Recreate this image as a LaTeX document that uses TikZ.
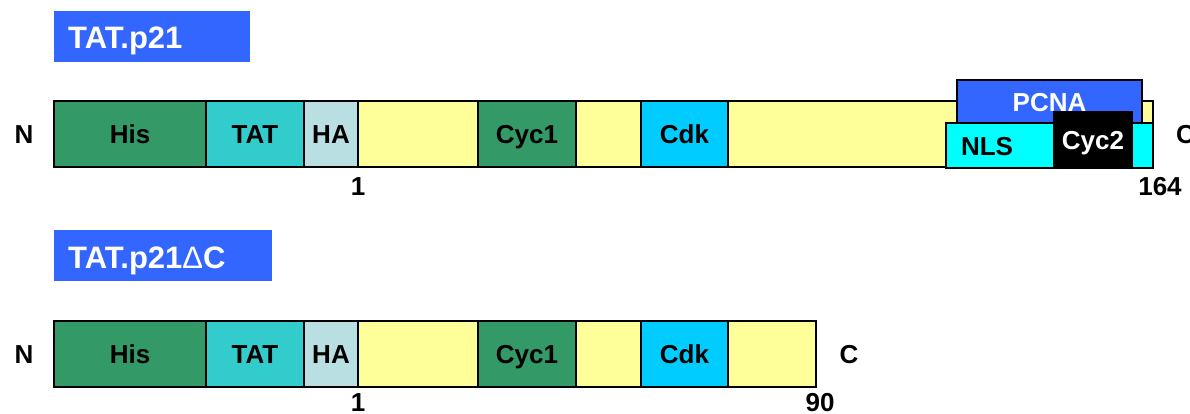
\documentclass[tikz,border=0pt]{standalone}
\usepackage{fontspec}
\setmainfont{Liberation Sans}
\definecolor{hisgreen}{HTML}{339966}
\definecolor{tatcyan}{HTML}{33CCCC}
\definecolor{hablue}{HTML}{B9DFE3}
\definecolor{pyellow}{HTML}{FFFF99}
\definecolor{cdkblue}{HTML}{00CCFF}
\definecolor{pcnablue}{HTML}{3366FF}
\definecolor{nlscyan}{HTML}{00FFFF}
\begin{document}
\begin{tikzpicture}[x=1pt,y=-1pt,
  seg/.style={draw=black, line width=1.6pt, inner sep=0pt, outer sep=0pt, anchor=north west,
    minimum height=66pt, text height=19pt, text depth=0pt, font=\fontsize{26}{30}\selectfont\bfseries},
  title/.style={fill=pcnablue, inner sep=0pt, outer sep=0pt, anchor=north west, minimum height=51pt},
  titletext/.style={anchor=west, inner sep=0pt, text=white, text height=22pt, text depth=0pt,
    font=\fontsize{31}{34}\selectfont\bfseries},
  lbl/.style={inner sep=0pt, text height=19pt, text depth=0pt, font=\fontsize{26}{30}\selectfont\bfseries}]
\useasboundingbox (0,0) rectangle (1190,414);
% titles
\node[title, minimum width=196pt] (t1box) at (54,11) {};
\node[titletext] (t1) at (68,38) {TAT.p21};
\node[title, minimum width=218pt] (t2box) at (54,230) {};
\node[titletext] (t2) at (68,257) {TAT.p21{\mdseries Δ}C};
% top bar
\node[seg, fill=pyellow, minimum width=1099pt] (bar1) at (54,101) {};
\node[seg, fill=hisgreen, minimum width=152pt] (his1) at (54,101) {His};
\node[seg, fill=tatcyan, minimum width=98pt] (tat1) at (206,101) {TAT};
\node[seg, fill=hablue, minimum width=54pt] (ha1) at (304,101) {HA};
\node[seg, fill=hisgreen, minimum width=98pt] (cyca) at (478,101) {Cyc1};
\node[seg, fill=cdkblue, minimum width=87pt] (cdka) at (641,101) {Cdk};
\node[seg, fill=pcnablue, minimum width=185pt, minimum height=44pt, text=white] (pcna) at (957,80) {PCNA};
\node[seg, fill=nlscyan, minimum width=207pt, minimum height=45pt] (nls) at (946,123) {};
\node[lbl] (nlstext) at (987,146) {NLS};
\node[seg, fill=black, minimum width=78pt, minimum height=56pt, text=white] (cyc2) at (1054,112) {Cyc2};
\node[lbl] (n1) at (24,134) {N};
\node[lbl, anchor=west] (c1) at (1176,134) {C};
\node[lbl] (one1) at (358,186) {1};
\node[lbl] (end1) at (1160,186) {164};
% bottom bar
\node[seg, fill=pyellow, minimum width=762pt] (bar2) at (54,321) {};
\node[seg, fill=hisgreen, minimum width=152pt] (his2) at (54,321) {His};
\node[seg, fill=tatcyan, minimum width=98pt] (tat2) at (206,321) {TAT};
\node[seg, fill=hablue, minimum width=54pt] (ha2) at (304,321) {HA};
\node[seg, fill=hisgreen, minimum width=98pt] (cycb) at (478,321) {Cyc1};
\node[seg, fill=cdkblue, minimum width=87pt] (cdkb) at (641,321) {Cdk};
\node[lbl] (n2) at (24,354) {N};
\node[lbl] (c2) at (849,354) {C};
\node[lbl] (one2) at (358,402) {1};
\node[lbl] (end2) at (820,402) {90};
\end{tikzpicture}
\end{document}
